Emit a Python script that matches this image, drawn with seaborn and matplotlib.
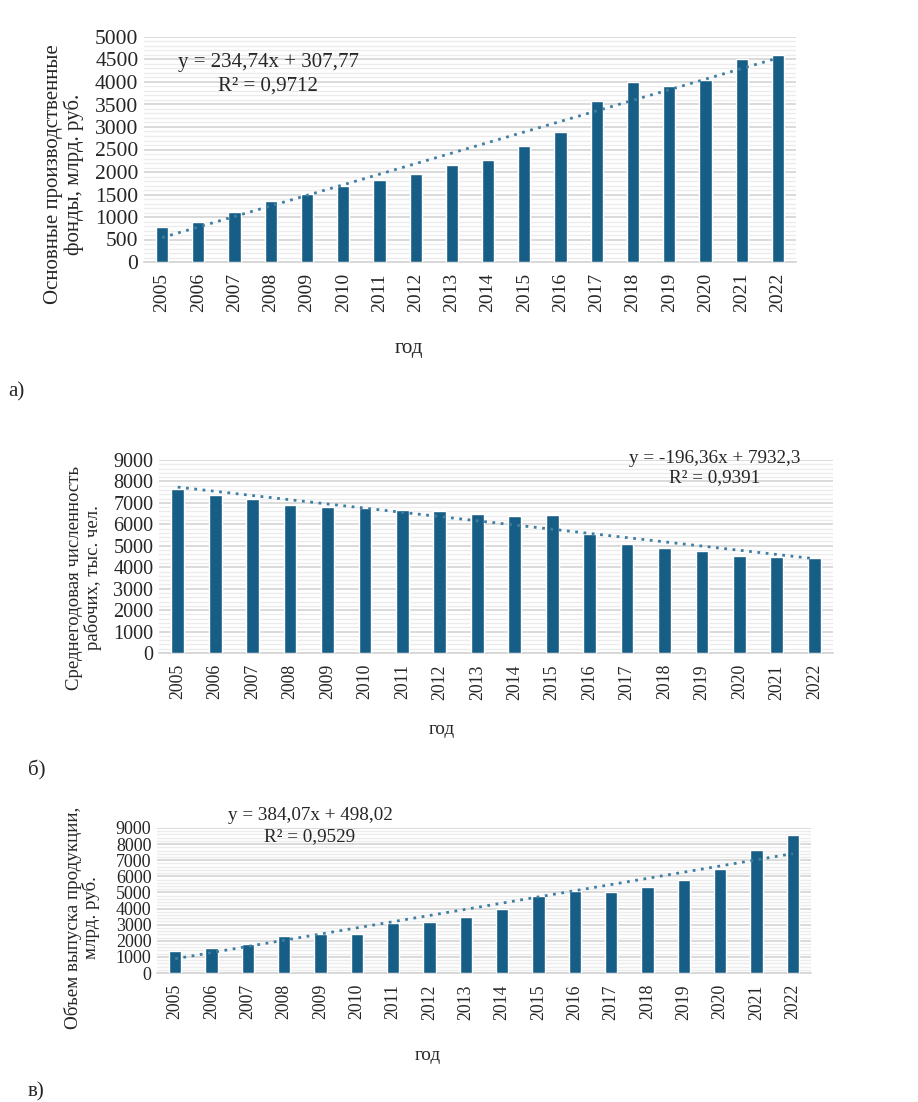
#графики: фонды, численность, выпуск продукции

import numpy as np
import pandas as pd
import matplotlib
matplotlib.use("Agg")
import matplotlib.pyplot as plt
from matplotlib.ticker import MultipleLocator
import seaborn as sns

#данные
years = [str(y) for y in range(2005, 2023)]
fondy = [785, 895, 1120, 1345, 1515, 1680, 1815, 1960, 2150, 2260,
         2575, 2880, 3580, 4000, 3920, 4040, 4500, 4610]
rabochie = [7650, 7390, 7190, 6910, 6815, 6755, 6690, 6600, 6490, 6380,
            6430, 5545, 5060, 4905, 4750, 4535, 4490, 4440]
vypusk = [1355, 1550, 1830, 2305, 2395, 2445, 3115, 3150, 3450, 3995,
          4755, 5070, 5055, 5315, 5790, 6460, 7640, 8540]

#линии тренда (коэффициенты с графика)
trend_a = (234.74, 307.77)
trend_b = (-196.36, 7932.3)
trend_c = (384.07, 498.02)

eq_a = ["y = 234,74x + 307,77", "R² = 0,9712"]
eq_b = ["y = -196,36x + 7932,3", "R² = 0,9391"]
eq_c = ["y = 384,07x + 498,02", "R² = 0,9529"]

ylab_a = "Основные производственные\nфонды, млрд. руб."
ylab_b = "Среднегодовая численность\nрабочих, тыс. чел."
ylab_c = "Объем выпуска продукции,\nмлрд. руб."

sns.set_style("white")
plt.rcParams['font.family'] = ['Liberation Serif', 'DejaVu Serif']

W, H = 918, 1102
fig = plt.figure(figsize=(W / 100, H / 100), dpi=100)

bar_color = "#175e86"
trend_color = "#3f7ea3"


def px(x, y):
    return x / W, 1 - y / H


def panel(box, values, ymax, major, minor, trend, eq, eq_xy, ylab, ylab_xy,
          xlab_xy, letter, letter_xy, fs_ytick, fs_xtick, fs_lab, fs_eq):
    l, t, r, b = box
    ax = fig.add_axes([l / W, 1 - b / H, (r - l) / W, (b - t) / H])
    df = pd.DataFrame({"год": years, "v": values})
    sns.barplot(data=df, x="год", y="v", color=bar_color, width=0.34,
                saturation=1, ax=ax, zorder=3)
    xs = np.arange(len(years))
    ax.plot(xs, trend[0] * (xs + 1) + trend[1], linestyle=(0, (1, 2)),
            color=trend_color, lw=2, zorder=4)
    ax.set_xlim(-0.5, len(years) - 0.5)
    ax.set_ylim(0, ymax)
    ax.yaxis.set_major_locator(MultipleLocator(major))
    ax.yaxis.set_minor_locator(MultipleLocator(minor))
    ax.grid(which="major", axis="y", color="#d4d4d4", lw=1.2, zorder=0)
    ax.grid(which="minor", axis="y", color="#ececec", lw=1.0, zorder=0)
    ax.set_axisbelow(True)
    for s in ["top", "right", "left"]:
        ax.spines[s].set_visible(False)
    ax.spines["bottom"].set_color("#d4d4d4")
    ax.spines["bottom"].set_linewidth(1.2)
    ax.tick_params(axis="both", which="both", length=0)
    ax.tick_params(axis="y", labelsize=fs_ytick, pad=4)
    ax.tick_params(axis="x", labelsize=fs_xtick, rotation=90, pad=8)
    ax.set_xlabel("")
    ax.set_ylabel("")
    fig.text(*px(*eq_xy[0]), eq[0], ha="center", va="center", fontsize=fs_eq)
    fig.text(*px(*eq_xy[1]), eq[1], ha="center", va="center", fontsize=fs_eq)
    fig.text(*px(*ylab_xy), ylab, ha="center", va="center", rotation=90,
             fontsize=fs_lab, linespacing=1.05)
    fig.text(*px(*xlab_xy), "год", ha="center", va="center", fontsize=fs_eq)
    fig.text(*px(*letter_xy), letter, ha="left", va="center", fontsize=15)
    return ax


panel((144, 37, 796, 262), fondy, 5000, 500, 100, trend_a, eq_a,
      [(268, 63), (268, 86)], ylab_a, (64, 174), (409, 348), "а)", (8, 392),
      15.5, 14, 15, 15)
panel((159, 460, 833, 653), rabochie, 9000, 1000, 200, trend_b, eq_b,
      [(715, 458), (715, 478)], ylab_b, (84, 578), (442, 730), "б)", (28, 770),
      14.5, 12.8, 13.5, 13.8)
panel((157, 828, 811, 973), vypusk, 9000, 1000, 200, trend_c, eq_c,
      [(310, 816), (310, 837)], ylab_c, (82, 918), (428, 1055), "в)", (28, 1092),
      13, 12.8, 13.7, 13.8)

plt.savefig("out.png", dpi=100)
